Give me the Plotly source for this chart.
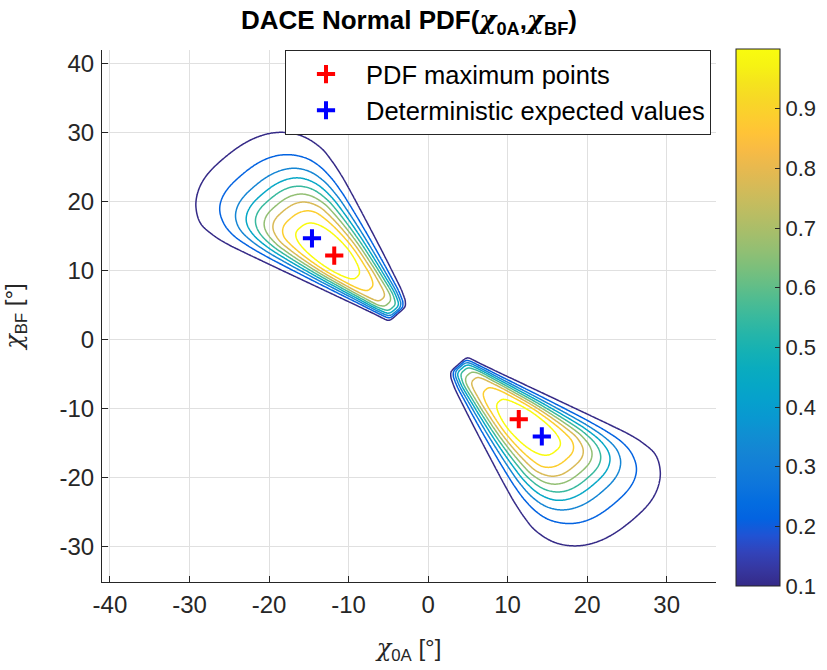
import numpy as np
import plotly.graph_objects as go

# ---------------- values ----------------
# contour levels of the normalised PDF
LEVEL_START, LEVEL_END, LEVEL_STEP = 0.1, 0.9, 0.1
COLOR_MIN, COLOR_MAX = 0.1, 1.0

# normalised PDF along the ridge of each lobe (radius from origin, deg units)
ridge_r = [4.6, 5.3, 5.5, 5.7, 6.0, 6.4, 7.2, 8.2, 10.3, 12.7, 17.0,
           22.8, 24.6, 26.0, 27.2, 28.4, 29.6, 31.1, 33.4, 36.7, 41.0]
ridge_pdf = [0.0, 0.1, 0.2, 0.3, 0.4, 0.5, 0.6, 0.7, 0.8, 0.9, 1.0,
             0.9, 0.8, 0.7, 0.6, 0.5, 0.4, 0.3, 0.2, 0.1, 0.0]
# angular spread of each lobe (deg of polar angle) versus radius,
# counter-clockwise side and clockwise side of the ridge
width_r_ccw = [4.6, 5.7, 6.4, 8.2, 12.7, 17.0, 22.8, 26.0, 28.4, 31.1, 33.4, 35.0, 37.0, 46.0]
width_ccw = [17.5, 16.0, 14.5, 13.3, 12.7, 12.5, 12.7, 13.2, 14.0, 15.3, 16.2, 15.8, 14.5, 14.0]
width_r_cw = [4.6, 5.7, 6.4, 8.2, 12.7, 17.0, 22.8, 26.0, 28.4, 31.1, 34.4, 46.0]
width_cw = [14.0, 14.5, 15.4, 16.0, 15.8, 15.6, 15.8, 16.3, 17.0, 18.3, 19.0, 19.0]
ANGULAR_EXPONENT = 3.0
lobe_direction_deg = [135.0, -45.0]

# marker points
pdf_max_x = [-11.8, 11.4]
pdf_max_y = [12.1, -11.6]
det_x = [-14.6, 14.3]
det_y = [14.6, -14.1]

x_ticks = [-40, -30, -20, -10, 0, 10, 20, 30]
y_ticks = [-30, -20, -10, 0, 10, 20, 30, 40]
cbar_ticks = [0.1, 0.2, 0.3, 0.4, 0.5, 0.6, 0.7, 0.8, 0.9]
X_RANGE = [-41.0, 36.2]
Y_RANGE = [-35.2, 41.9]

# MATLAB parula colormap
parula_rgb = [
    (0.2081, 0.1663, 0.5292), (0.2123, 0.2138, 0.6270), (0.1959, 0.2645, 0.7279),
    (0.1253, 0.3242, 0.8303), (0.0117, 0.3875, 0.8820), (0.0165, 0.4266, 0.8786),
    (0.0498, 0.4586, 0.8641), (0.0723, 0.4887, 0.8467), (0.0793, 0.5200, 0.8312),
    (0.0641, 0.5570, 0.8240), (0.0343, 0.5966, 0.8199), (0.0239, 0.6287, 0.8038),
    (0.0228, 0.6535, 0.7768), (0.0384, 0.6743, 0.7436), (0.0843, 0.6928, 0.7062),
    (0.1453, 0.7098, 0.6646), (0.2178, 0.7250, 0.6193), (0.3022, 0.7376, 0.5712),
    (0.3953, 0.7459, 0.5244), (0.4871, 0.7491, 0.4840), (0.5709, 0.7485, 0.4494),
    (0.6473, 0.7456, 0.4188), (0.7184, 0.7411, 0.3905), (0.7858, 0.7356, 0.3633),
    (0.8507, 0.7299, 0.3360), (0.9139, 0.7258, 0.3063), (0.9739, 0.7314, 0.2666),
    (0.9990, 0.7653, 0.2164), (0.9880, 0.8066, 0.1794), (0.9697, 0.8481, 0.1475),
    (0.9589, 0.8949, 0.1132), (0.9661, 0.9514, 0.0755), (0.9763, 0.9831, 0.0538),
]
# -------------------------------------------------------------------------


def pchip(xk, yk, x, left, right):
    xk = np.asarray(xk, float)
    yk = np.asarray(yk, float)
    h = np.diff(xk)
    d = np.diff(yk) / h
    m = np.zeros_like(yk)
    for k in range(1, len(xk) - 1):
        if d[k - 1] * d[k] > 0:
            w1 = 2 * h[k] + h[k - 1]
            w2 = h[k] + 2 * h[k - 1]
            m[k] = (w1 + w2) / (w1 / d[k - 1] + w2 / d[k])
    xc = np.clip(x, xk[0], xk[-1])
    idx = np.clip(np.searchsorted(xk, xc) - 1, 0, len(xk) - 2)
    hh = h[idx]
    t = (xc - xk[idx]) / hh
    h00 = 2 * t**3 - 3 * t**2 + 1
    h10 = t**3 - 2 * t**2 + t
    h01 = -2 * t**3 + 3 * t**2
    h11 = t**3 - t**2
    out = h00 * yk[idx] + h10 * hh * m[idx] + h01 * yk[idx + 1] + h11 * hh * m[idx + 1]
    out = np.where(x < xk[0], left, out)
    out = np.where(x > xk[-1], right, out)
    return out


grid = np.round(np.arange(-33.0, 33.0001, 0.12), 3)
GX, GY = np.meshgrid(grid, grid)
R = np.hypot(GX, GY)
TH = np.degrees(np.arctan2(GY, GX))
G = np.clip(pchip(ridge_r, ridge_pdf, R, 0.0, 0.0), 0, 1)
W_ccw = pchip(width_r_ccw, width_ccw, R, width_ccw[0], width_ccw[-1])
W_cw = pchip(width_r_cw, width_cw, R, width_cw[0], width_cw[-1])
Z = np.zeros_like(R)
for th0 in lobe_direction_deg:
    dth = (TH - th0 + 180.0) % 360.0 - 180.0
    W = np.where(dth >= 0, W_ccw, W_cw)
    Z = np.maximum(Z, G * np.exp(-np.abs(dth / W) ** ANGULAR_EXPONENT))
Z = np.round(Z, 4)

parula = [[i / (len(parula_rgb) - 1),
           "rgb(%d,%d,%d)" % tuple(int(round(255 * c)) for c in rgb)]
          for i, rgb in enumerate(parula_rgb)]

FONT = "Liberation Sans, Arial, Helvetica, sans-serif"
DARK = "#262626"
CHI = '<span style="font-family:DejaVu Serif"><i>χ</i></span>'

fig = go.Figure()
fig.add_trace(go.Contour(
    x=grid, y=grid, z=Z,
    contours=dict(start=LEVEL_START, end=LEVEL_END, size=LEVEL_STEP, coloring="lines"),
    line=dict(width=1.5, smoothing=1),
    colorscale=parula, zauto=False, zmin=COLOR_MIN, zmax=COLOR_MAX,
    showscale=False, showlegend=False, hoverinfo="skip",
))
# colour bar
fig.add_trace(go.Scatter(
    x=[None, None], y=[None, None], mode="markers", showlegend=False,
    marker=dict(color=[COLOR_MIN, COLOR_MAX], cmin=COLOR_MIN, cmax=COLOR_MAX,
                colorscale=parula, showscale=True,
                colorbar=dict(
                    x=(736 - 102) / 614, xanchor="left", xref="paper",
                    y=-4 / 532, yanchor="bottom", yref="paper",
                    lenmode="pixels", len=537, thickness=44,
                    thicknessmode="pixels", xpad=0, ypad=0,
                    outlinecolor=DARK, outlinewidth=1,
                    tickvals=cbar_ticks, ticktext=["%.1f" % v for v in cbar_ticks],
                    ticks="inside", ticklen=5, tickcolor=DARK,
                    tickfont=dict(family=FONT, size=22, color=DARK),
                )),
))
fig.add_trace(go.Scatter(
    x=pdf_max_x, y=pdf_max_y, mode="markers", name="PDF maximum points",
    marker=dict(symbol="cross-thin", size=13, line=dict(width=4, color="#ff0000")),
    legendgroup="a",
))
fig.add_trace(go.Scatter(
    x=det_x, y=det_y, mode="markers", name="Deterministic expected values",
    marker=dict(symbol="cross-thin", size=13, line=dict(width=4, color="#0000ff")),
    legendgroup="b",
))

fig.update_layout(
    width=827, height=670,
    margin=dict(l=102, r=111, t=50, b=88, autoexpand=False),
    paper_bgcolor="white", plot_bgcolor="white",
    font=dict(family=FONT, color=DARK),
    title=dict(
        text="<b>DACE Normal PDF(" + CHI + "<sub>0A</sub>," + CHI + "<sub>BF</sub>)</b>",
        x=409 / 827, xanchor="center", y=1 - 20 / 670, yanchor="middle",
        font=dict(family=FONT, size=26, color="#000000"),
    ),
    legend=dict(
        x=(711 - 102) / 614, xanchor="right", y=1.0, yanchor="top",
        bgcolor="white", bordercolor=DARK, borderwidth=1,
        font=dict(family=FONT, size=25.5, color="#000000"),
        tracegroupgap=0, itemwidth=70,
    ),
    xaxis=dict(
        range=X_RANGE, tickvals=x_ticks, ticktext=[str(v) for v in x_ticks],
        showgrid=True, gridcolor="#e0e0e0", gridwidth=1, zeroline=False,
        showline=True, linecolor=DARK, linewidth=1, ticks="inside",
        ticklen=6, tickcolor=DARK, tickfont=dict(family=FONT, size=24, color=DARK),
        ticklabelstandoff=1,
        title=dict(text=CHI + "<sub>0A</sub> [°]", standoff=22,
                   font=dict(family=FONT, size=24, color=DARK)),
    ),
    yaxis=dict(
        range=Y_RANGE, tickvals=y_ticks, ticktext=[str(v) for v in y_ticks],
        showgrid=True, gridcolor="#e0e0e0", gridwidth=1, zeroline=False,
        showline=True, linecolor=DARK, linewidth=1, ticks="inside",
        ticklen=6, tickcolor=DARK, tickfont=dict(family=FONT, size=24, color=DARK),
        ticklabelstandoff=2,
        title=dict(text=CHI + "<sub>BF</sub> [°]", standoff=30,
                   font=dict(family=FONT, size=24, color=DARK)),
    ),
)

fig.write_html("out.html", config={"displayModeBar": False},
               post_script="document.body.style.margin='0px';")
